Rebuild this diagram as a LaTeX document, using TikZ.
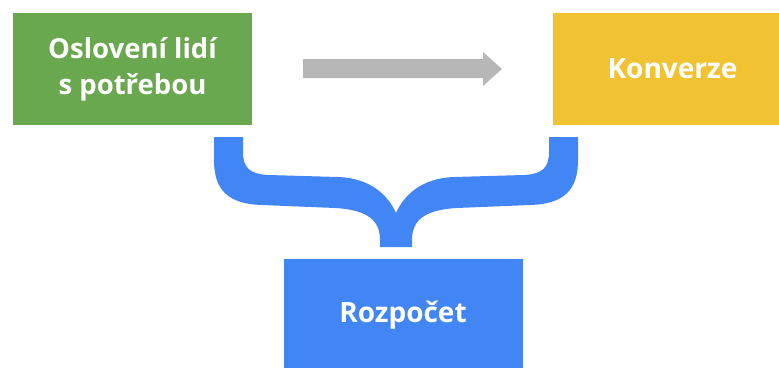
\documentclass[tikz,border=0pt]{standalone}
\usepackage{fontspec}
\setmainfont{Open Sans}
\definecolor{gGreen}{HTML}{6AA84F}
\definecolor{gYellow}{HTML}{F1C232}
\definecolor{gBlue}{HTML}{4285F4}
\definecolor{gGray}{HTML}{B7B7B7}
\tikzset{
  box/.style={rectangle, minimum width=239pt, minimum height=112pt, inner sep=0pt,
    text=white, align=center, font=\bfseries},
}
\begin{document}
\begin{tikzpicture}[x=1pt,y=-1pt]
\useasboundingbox (0,0) rectangle (779,367);
\clip (0,0) rectangle (779,367);
\node[box, fill=gGreen, font=\bfseries\fontsize{27.5}{36}\selectfont] (reach) at (132.5,69) {Oslovení lidí\\s potřebou};
\node[box, fill=gYellow, font=\bfseries\fontsize{28}{34}\selectfont] (conv) at (672.5,69) {Konverze};
\node[box, fill=gBlue, font=\bfseries\fontsize{28}{34}\selectfont] (budget) at (403,315) {Rozpočet};
\fill[gGray] (303,59) -- (483,59) -- (483,52) -- (502,69) -- (483,86) -- (483,78) -- (303,78) -- cycle;
\fill[gBlue] (214,137) -- (214,160) .. controls (214,190) and (228,204) .. (262,205) -- (335,208)
  .. controls (370,210) and (380,222) .. (380,240) -- (380,247) -- (412,247) -- (412,240)
  .. controls (412,222) and (422,210) .. (457,208) -- (530,205)
  .. controls (564,204) and (578,190) .. (578,160) -- (578,137) -- (549,137) -- (549,152)
  .. controls (549,168) and (542,174) .. (524,175) -- (454,177)
  .. controls (422,178) and (404,195) .. (396,213)
  .. controls (388,195) and (370,178) .. (338,177) -- (268,175)
  .. controls (250,174) and (243,168) .. (243,152) -- (243,137) -- cycle;
\end{tikzpicture}
\end{document}
